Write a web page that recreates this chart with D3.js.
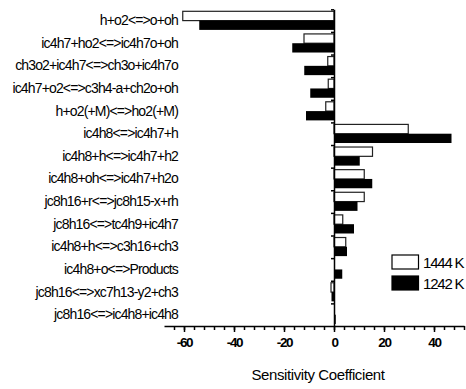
<!DOCTYPE html>
<html>
  <head>
    <style>
      body {
        margin: 0;
        background: #fff;
        font-family: "Liberation Sans", Arial, sans-serif;
      }
      .cat-axis text {
        font-size: 14px;
        letter-spacing: -0.85px;
        fill: #000;
      }
      .x-axis text {
        font-size: 13.5px;
        font-weight: bold;
        letter-spacing: -1.3px;
        fill: #000;
      }
      .x-axis path, .x-axis line, .zero-axis path, .zero-axis line {
        stroke: #000;
        stroke-width: 1.5px;
      }
      .legend text {
        font-size: 15px;
        letter-spacing: -1.2px;
      }
      .title {
        font-size: 15px;
        letter-spacing: -0.4px;
      }
    </style>
  </head>
  <body>
    <svg width="466" height="389"></svg>
    <script src="https://d3js.org/d3.v7.min.js"></script>
    <script>
    // reactions, top to bottom
      var reactions = [
        "h+o2<=>o+oh",
        "ic4h7+ho2<=>ic4h7o+oh",
        "ch3o2+ic4h7<=>ch3o+ic4h7o",
        "ic4h7+o2<=>c3h4-a+ch2o+oh",
        "h+o2(+M)<=>ho2(+M)",
        "ic4h8<=>ic4h7+h",
        "ic4h8+h<=>ic4h7+h2",
        "ic4h8+oh<=>ic4h7+h2o",
        "jc8h16+r<=>jc8h15-x+rh",
        "jc8h16<=>tc4h9+ic4h7",
        "ic4h8+h<=>c3h16+ch3",
        "ic4h8+o<=>Products",
        "jc8h16<=>xc7h13-y2+ch3",
        "jc8h16<=>ic4h8+ic4h8"
      ];
      var series = ["1444 K", "1242 K"];
      var sens1444 = [-60.5, -12, -2.5, -2.3, -3.3, 29.7, 15.4, 12.1, 12.1, 3.5, 4.7, 0, -1.2, 0];
      var sens1242 = [-53.9, -16.7, -11.9, -9.5, -11.2, 47, 10.3, 15.3, 9.4, 8.0, 5.2, 3.3, -1.0, 0.7];
      var xMajor = [-60, -40, -20, 0, 20, 40];

      var svg = d3.select("svg");

    //scales
      var x = d3.scaleLinear().domain([-68, 52]).range([164, 464]);
      var y = d3.scaleBand().domain(reactions).range([9.3, 326]).padding(0);
      var yb = d3.scaleLinear().domain([0, reactions.length]).range([9.3, 326]);
      var sub = d3.scaleBand().domain(series).range([2, 20.6]).padding(0);

      var rows = reactions.map((r, i) => ({name: r, values: [sens1444[i], sens1242[i]]}));

    //bars
      var groups = svg.selectAll("g.row")
          .data(rows)
        .enter().append("g")
          .attr("class", "row")
          .attr("transform", d => "translate(0," + y(d.name) + ")");

      groups.selectAll("rect")
          .data(d => d.values.map((v, k) => ({key: series[k], v: v})))
        .enter().append("rect")
          .filter(d => d.v !== 0)
          .attr("x", d => x(Math.min(0, d.v)))
          .attr("y", d => sub(d.key))
          .attr("width", d => Math.abs(x(d.v) - x(0)))
          .attr("height", sub.bandwidth())
          .attr("fill", d => d.key === series[0] ? "#fff" : "#000")
          .attr("stroke", d => d.key === series[0] ? "#222" : "none")
          .attr("stroke-width", 1.2);

    //zero axis with ticks at band edges
      svg.append("g")
          .attr("class", "zero-axis")
          .attr("transform", "translate(" + x(0) + ",0)")
          .call(d3.axisLeft(yb).tickValues(d3.range(reactions.length)).tickSize(3).tickSizeOuter(0).tickFormat(""));

    //category labels
      var cat = svg.append("g")
          .attr("class", "cat-axis")
          .attr("transform", "translate(178,0)")
          .call(d3.axisLeft(y).tickSize(0).tickPadding(0));
      cat.select(".domain").remove();
      cat.selectAll("text").attr("font-family", null).attr("font-size", null);

    //x axis: minor then major ticks
      var xg = svg.append("g")
          .attr("class", "x-axis")
          .attr("transform", "translate(0,326)");
      xg.append("g").call(d3.axisBottom(x).tickValues(d3.range(-64, 53, 4)).tickSize(4).tickSizeOuter(0).tickFormat(""));
      var major = xg.append("g").call(d3.axisBottom(x).tickValues(xMajor).tickSize(6).tickSizeOuter(0).tickPadding(5).tickFormat(d3.format("d")));
      major.select(".domain").remove();
      major.selectAll("text").attr("font-family", null).attr("font-size", null).text(d => String(d));

      svg.append("text")
          .attr("class", "title")
          .attr("x", 318)
          .attr("y", 380)
          .attr("text-anchor", "middle")
          .text("Sensitivity Coefficient");

    //legend
      var legend = svg.append("g").attr("class", "legend")
        .selectAll("g")
          .data(series)
        .enter().append("g")
          .attr("transform", (d, i) => "translate(392," + (255 + i * 21) + ")");
      legend.append("rect")
          .attr("width", 26.5)
          .attr("height", 14)
          .attr("fill", (d, i) => i ? "#000" : "#fff")
          .attr("stroke", "#000")
          .attr("stroke-width", 1.2);
      legend.append("text")
          .attr("x", 31)
          .attr("y", 12.5)
          .text(d => d);
    </script>
  </body>
</html>
